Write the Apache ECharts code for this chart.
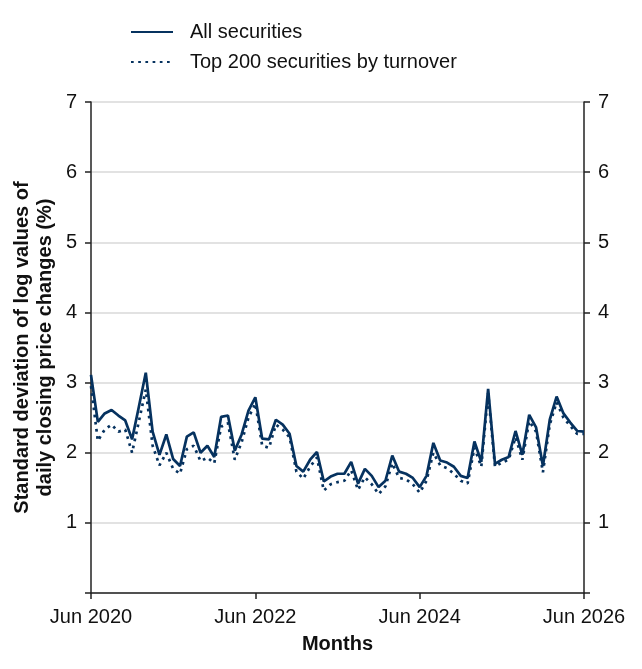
<!DOCTYPE html>
<html>
<head>
    <meta charset="UTF-8">
    <title>Price volatility</title>
    <style>
        html, body { margin: 0; padding: 0; width: 100%; height: 100%; overflow: hidden; background: #fff; }
        #main { width: 642px; height: 669px; }
    </style>
    <script src="https://cdn.jsdelivr.net/npm/echarts@6/dist/echarts.min.js"></script>
</head>
<body>
    <div id="main"></div>
    <script>
        // Months Jun 2020 .. Jun 2026
        const monthNames = ['Jan', 'Feb', 'Mar', 'Apr', 'May', 'Jun', 'Jul', 'Aug', 'Sep', 'Oct', 'Nov', 'Dec'];
        const months = [];
        for (let i = 0; i <= 72; i++) {
            const m = (5 + i) % 12;
            const y = 2020 + Math.floor((5 + i) / 12);
            months.push(monthNames[m] + ' ' + y);
        }

        const allSecurities = [
            3.11, 2.44, 2.56, 2.61, 2.53, 2.46, 2.19, 2.66, 3.14, 2.30,
            1.97, 2.26, 1.91, 1.81, 2.23, 2.29, 2.00, 2.10, 1.94, 2.51,
            2.53, 2.03, 2.26, 2.60, 2.79, 2.20, 2.19, 2.47, 2.40, 2.27,
            1.81, 1.73, 1.90, 2.01, 1.59, 1.66, 1.70, 1.70, 1.87, 1.56,
            1.77, 1.67, 1.51, 1.60, 1.96, 1.73, 1.70, 1.64, 1.51, 1.67,
            2.14, 1.89, 1.86, 1.80, 1.67, 1.64, 2.16, 1.87, 2.91, 1.84,
            1.90, 1.94, 2.31, 1.97, 2.54, 2.36, 1.81, 2.47, 2.80, 2.56,
            2.43, 2.31, 2.30
        ];

        const top200 = [
            2.95, 2.17, 2.33, 2.40, 2.30, 2.33, 2.00, 2.45, 2.90, 2.10,
            1.82, 2.00, 1.77, 1.70, 2.05, 2.10, 1.88, 1.93, 1.85, 2.37,
            2.42, 1.90, 2.15, 2.50, 2.70, 2.10, 2.07, 2.40, 2.33, 2.22,
            1.73, 1.63, 1.80, 1.93, 1.46, 1.55, 1.58, 1.60, 1.75, 1.47,
            1.65, 1.55, 1.41, 1.52, 1.85, 1.64, 1.62, 1.55, 1.43, 1.60,
            2.00, 1.82, 1.78, 1.70, 1.60, 1.56, 2.07, 1.80, 2.85, 1.80,
            1.86, 1.90, 2.22, 1.90, 2.45, 2.30, 1.72, 2.40, 2.72, 2.50,
            2.38, 2.27, 2.27
        ];

        const navy = '#06325f';
        const font = 'Liberation Sans, Arial, sans-serif';

        const yAxisBase = {
            type: 'value',
            min: 0,
            max: 7,
            interval: 1,
            axisLine: { show: true, lineStyle: { color: '#222', width: 1.5 } },
            axisTick: { show: true, length: 6, lineStyle: { color: '#222', width: 1.5 } },
            axisLabel: {
                color: '#111', fontSize: 20, fontFamily: font, margin: 14,
                formatter: v => (v === 0 ? '' : String(v))
            }
        };

        const chart = echarts.init(document.getElementById('main'));
        chart.setOption({
            animation: false,
            backgroundColor: '#fff',
            legend: {
                orient: 'vertical',
                left: 125,
                top: 17,
                itemWidth: 42,
                itemHeight: 14,
                itemGap: 10,
                itemStyle: { opacity: 0 },
                textStyle: { fontSize: 20, fontFamily: font, color: '#111', padding: [0, 0, 0, 12] },
                data: ['All securities', 'Top 200 securities by turnover']
            },
            grid: { left: 91, right: 58, top: 102, bottom: 76, containLabel: false, outerBoundsMode: 'none' },
            xAxis: {
                type: 'category',
                data: months,
                boundaryGap: false,
                name: 'Months',
                nameLocation: 'middle',
                nameGap: 41,
                nameTextStyle: { fontSize: 20, fontWeight: 'bold', fontFamily: font, color: '#111' },
                axisLine: { lineStyle: { color: '#222', width: 1.5 } },
                axisTick: { interval: 23, length: 6, lineStyle: { color: '#222', width: 1.5 } },
                axisLabel: { interval: 23, color: '#111', fontSize: 20, fontFamily: font, margin: 14 },
                splitLine: { show: false }
            },
            yAxis: [
                Object.assign({}, yAxisBase, {
                    position: 'left',
                    name: 'Standard deviation of log values of\ndaily closing price changes (%)',
                    nameLocation: 'middle',
                    nameGap: 34,
                    nameMoveOverlap: false,
                    nameTextStyle: { fontSize: 20, fontWeight: 'bold', fontFamily: font, color: '#111', lineHeight: 23 },
                    splitLine: { show: true, lineStyle: { color: '#d9d9d9', width: 1.5 } }
                }),
                Object.assign({}, yAxisBase, {
                    position: 'right',
                    splitLine: { show: false }
                })
            ],
            series: [
                {
                    name: 'All securities',
                    type: 'line',
                    data: allSecurities,
                    symbol: 'none',
                    lineStyle: { color: navy, width: 2.7 },
                    itemStyle: { color: navy }
                },
                {
                    name: 'Top 200 securities by turnover',
                    type: 'line',
                    data: top200,
                    symbol: 'none',
                    lineStyle: { color: navy, width: 2.7, type: [2.7, 4.5] },
                    itemStyle: { color: navy }
                }
            ]
        });
    </script>
</body>
</html>
